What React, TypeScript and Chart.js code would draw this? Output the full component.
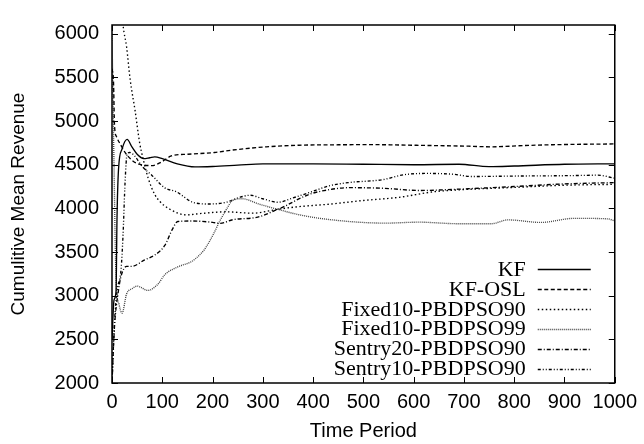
import React, { useEffect, useRef } from 'react';
import { Chart, registerables } from 'chart.js';

Chart.register(...registerables);

// ---- data ----
const seriesNames = [
  'KF',
  'KF-OSL',
  'Fixed10-PBDPSO90',
  'Fixed10-PBDPSO99',
  'Sentry20-PBDPSO90',
  'Sentry10-PBDPSO90',
];

const kfT = [0, 4, 8, 10, 13, 20, 30, 40, 50, 63, 75, 85, 100, 130, 165, 200, 250, 300, 400, 500, 600, 690, 750, 800, 900, 1000];
const kfV = [2500, 2950, 3050, 3900, 4450, 4680, 4790, 4700, 4620, 4570, 4580, 4590, 4570, 4510, 4475, 4480, 4495, 4510, 4510, 4505, 4500, 4505, 4478, 4485, 4505, 4510];

const kfOslT = [0, 3, 5, 9, 19, 26, 40, 52, 79, 98, 118, 151, 204, 240, 307, 372, 450, 510, 610, 709, 754, 822, 887, 1000];
const kfOslV = [5600, 5450, 4950, 4820, 4710, 4640, 4550, 4510, 4490, 4530, 4600, 4620, 4640, 4668, 4705, 4723, 4728, 4730, 4722, 4712, 4705, 4720, 4730, 4738];

const fixed90T = [0, 10, 22, 29, 36, 46, 55, 62, 72, 85, 95, 115, 148, 174, 227, 280, 330, 372, 432, 500, 570, 640, 700, 800, 900, 1000];
const fixed90V = [8000, 7000, 6100, 5850, 5480, 5116, 4750, 4565, 4345, 4160, 4080, 3990, 3925, 3940, 3960, 3945, 3990, 4020, 4048, 4090, 4126, 4190, 4215, 4240, 4265, 4275];

const fixed99T = [0, 4, 8, 14, 20, 29, 40, 50, 71, 91, 105, 131, 158, 174, 184, 200, 214, 228, 240, 259, 293, 327, 372, 432, 544, 610, 689, 754, 788, 853, 920, 986, 1000];
const fixed99V = [6000, 4500, 3200, 2900, 2800, 3020, 3080, 3110, 3060, 3130, 3240, 3330, 3390, 3465, 3530, 3685, 3850, 3993, 4092, 4110, 4048, 3993, 3927, 3872, 3831, 3842, 3824, 3824, 3868, 3839, 3886, 3880, 3855];

const sentry20T = [0, 5, 12, 17, 29, 39, 65, 85, 105, 120, 131, 160, 200, 215, 240, 290, 330, 340, 392, 432, 470, 540, 610, 709, 800, 900, 1000];
const sentry20V = [2000, 2650, 3024, 3200, 3335, 3335, 3410, 3465, 3575, 3760, 3850, 3855, 3840, 3828, 3870, 3900, 3990, 4015, 4160, 4214, 4237, 4230, 4205, 4225, 4250, 4280, 4295];

const sentry10T = [0, 5, 10, 18, 22, 26, 30, 35, 45, 60, 79, 105, 128, 161, 194, 227, 253, 275, 300, 330, 360, 392, 432, 470, 540, 580, 630, 680, 715, 800, 913, 966, 1000];
const sentry10V = [2000, 2700, 3050, 3300, 3700, 4300, 4620, 4640, 4600, 4480, 4380, 4235, 4190, 4070, 4050, 4070, 4125, 4150, 4110, 4070, 4120, 4180, 4258, 4295, 4330, 4385, 4400, 4390, 4365, 4370, 4375, 4380, 4345];

const xTicks = [0, 100, 200, 300, 400, 500, 600, 700, 800, 900, 1000];
const yTicks = [2000, 2500, 3000, 3500, 4000, 4500, 5000, 5500, 6000];

const xTitle = 'Time Period';
const yTitle = 'Cumulitive Mean Revenue';

// ---- styles ----
const dashes: number[][] = [
  [],
  [4, 2.5],
  [1.5, 2.5],
  [1, 1],
  [4, 2, 1, 2],
  [3, 2, 1, 2, 1, 2],
];
const colors = ['#000', '#000', '#000', '#444', '#000', '#000'];

const SANS = '"Liberation Sans", Arial, Helvetica, sans-serif';
const SERIF = '"Liberation Serif", "Times New Roman", serif';

function pts(t: number[], v: number[]) {
  return t.map((x, i) => ({ x, y: v[i] }));
}

const boxPlugin = {
  id: 'gpBox',
  afterDatasetsDraw(chart: any) {
    const { ctx, chartArea: a, scales } = chart;
    ctx.save();
    ctx.strokeStyle = '#000';
    ctx.lineWidth = 1;
    ctx.setLineDash([]);
    const tl = 6;
    ctx.beginPath();
    yTicks.forEach((v) => {
      const y = Math.round(scales.y.getPixelForValue(v)) + 0.5;
      ctx.moveTo(a.left, y);
      ctx.lineTo(a.left + tl, y);
      ctx.moveTo(a.right, y);
      ctx.lineTo(a.right - tl, y);
    });
    xTicks.forEach((v) => {
      const x = Math.round(scales.x.getPixelForValue(v)) + 0.5;
      ctx.moveTo(x, a.bottom);
      ctx.lineTo(x, a.bottom - tl);
      ctx.moveTo(x, a.top);
      ctx.lineTo(x, a.top + tl);
    });
    ctx.stroke();
    ctx.lineWidth = 1.5;
    ctx.strokeRect(a.left, a.top, a.right - a.left, a.bottom - a.top);

    // legend (gnuplot style: right-aligned text, sample to the right)
    ctx.font = '22px ' + SERIF;
    ctx.textAlign = 'right';
    ctx.textBaseline = 'middle';
    const textRight = a.right - 89;
    const s1 = a.right - 77;
    const s2 = a.right - 24;
    const y0 = a.bottom - 114;
    const step = 19.9;
    chart.data.datasets.forEach((ds: any, i: number) => {
      const y = y0 + i * step;
      ctx.fillStyle = '#000';
      ctx.fillText(ds.label, textRight, y + 1);
      ctx.beginPath();
      ctx.setLineDash(ds.borderDash || []);
      ctx.lineWidth = ds.borderWidth;
      ctx.strokeStyle = ds.borderColor;
      ctx.moveTo(s1, Math.round(y) + 0.5);
      ctx.lineTo(s2, Math.round(y) + 0.5);
      ctx.stroke();
    });
    ctx.restore();
  },
};

export default function App() {
  const ref = useRef<HTMLCanvasElement>(null);
  useEffect(() => {
    const data = [
      pts(kfT, kfV),
      pts(kfOslT, kfOslV),
      pts(fixed90T, fixed90V),
      pts(fixed99T, fixed99V),
      pts(sentry20T, sentry20V),
      pts(sentry10T, sentry10V),
    ];
    const chart = new Chart(ref.current as HTMLCanvasElement, {
      type: 'line',
      data: {
        datasets: data.map((d, i) => ({
          label: seriesNames[i],
          data: d,
          borderColor: colors[i],
          borderWidth: 1.35,
          borderDash: dashes[i],
          pointRadius: 0,
          fill: false,
          cubicInterpolationMode: 'monotone' as const,
        })),
      },
      options: {
        animation: false,
        responsive: false,
        devicePixelRatio: 1,
        layout: { padding: { top: 10, right: 27, bottom: 0, left: 0 } },
        plugins: { legend: { display: false }, tooltip: { enabled: false } },
        scales: {
          x: {
            type: 'linear',
            min: 0,
            max: 1000,
            afterBuildTicks: (s: any) => {
              s.ticks = xTicks.map((value) => ({ value }));
            },
            afterFit: (s: any) => {
              s.height = 61;
            },
            grid: { display: false, drawTicks: false },
            border: { display: false },
            ticks: {
              color: '#000',
              font: { family: SANS, size: 20 },
              padding: 7,
              maxRotation: 0,
              autoSkip: false,
              callback: (v: any) => String(v),
            },
            title: {
              display: true,
              text: xTitle,
              color: '#000',
              font: { family: SANS, size: 20 },
              padding: { top: 0, bottom: 1 },
            },
          },
          y: {
            type: 'linear',
            min: 2000,
            max: 6100,
            afterBuildTicks: (s: any) => {
              s.ticks = yTicks.map((value) => ({ value }));
            },
            afterFit: (s: any) => {
              s.width = 112;
            },
            grid: { display: false, drawTicks: false },
            border: { display: false },
            ticks: {
              color: '#000',
              font: { family: SANS, size: 20 },
              padding: 13,
              autoSkip: false,
              callback: (v: any) => String(v),
            },
            title: {
              display: true,
              text: yTitle,
              color: '#000',
              font: { family: SANS, size: 19 },
              padding: { top: 7, bottom: 0 },
            },
          },
        },
      },
      plugins: [boxPlugin],
    });
    return () => chart.destroy();
  }, []);
  return (
    <div style={{ position: 'absolute', left: 0, top: 0, width: 644, height: 444, background: '#fff' }}>
      <canvas ref={ref} width={644} height={444} style={{ display: 'block', width: 644, height: 444 }} />
    </div>
  );
}
